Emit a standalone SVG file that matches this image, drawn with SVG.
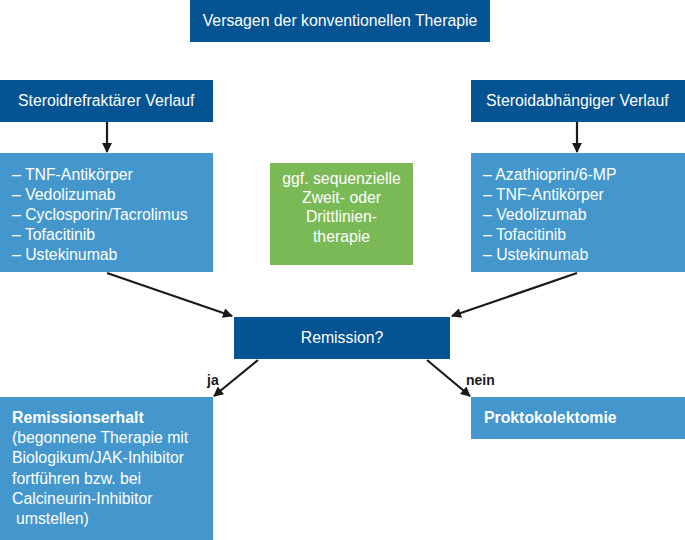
<svg xmlns="http://www.w3.org/2000/svg" width="685" height="540" viewBox="0 0 685 540">
<defs>
<style>
.dark{fill:#045393}
.light{fill:#4497cc}
.green{fill:#7ab955}
text{font-family:"Liberation Sans",Arial,sans-serif;font-size:15.8px;fill:#ffffff}
.c{text-anchor:middle}
.b{font-weight:bold}
.lbl{fill:#1a1a1a;font-weight:bold;font-size:14px}
.conn{stroke:#1a1a1a;stroke-width:2.2;fill:none;marker-end:url(#ah)}
</style>
<marker id="ah" viewBox="0 0 10 10" refX="9" refY="5" markerWidth="5" markerHeight="4.5" orient="auto" markerUnits="strokeWidth">
<path d="M0,0 L10,5 L0,10 z" fill="#1a1a1a"/>
</marker>
</defs>
<rect width="685" height="540" fill="#ffffff"/>
<g id="n-top">
<rect class="dark" x="190" y="0" width="300" height="42"/>
<text class="c" x="340" y="26">Versagen der konventionellen Therapie</text>
</g>
<g id="n-refr">
<rect class="dark" x="0" y="80" width="213" height="42"/>
<text x="18" y="106">Steroidrefraktärer Verlauf</text>
</g>
<g id="n-abh">
<rect class="dark" x="471" y="80" width="214" height="42"/>
<text x="486" y="106">Steroidabhängiger Verlauf</text>
</g>
<g id="n-list-left">
<rect class="light" x="0" y="153" width="213" height="119"/>
<text x="12" y="180">– TNF-Antikörper</text>
<text x="12" y="200">– Vedolizumab</text>
<text x="12" y="220">– Cyclosporin/Tacrolimus</text>
<text x="12" y="240">– Tofacitinib</text>
<text x="12" y="260">– Ustekinumab</text>
</g>
<g id="n-green">
<rect class="green" x="270" y="163" width="143" height="102"/>
<text class="c" x="341.5" y="184">ggf. sequenzielle</text>
<text class="c" x="341.5" y="203">Zweit- oder</text>
<text class="c" x="341.5" y="222">Drittlinien-</text>
<text class="c" x="341.5" y="242">therapie</text>
</g>
<g id="n-list-right">
<rect class="light" x="471" y="153" width="214" height="119"/>
<text x="483" y="180">– Azathioprin/6-MP</text>
<text x="483" y="200">– TNF-Antikörper</text>
<text x="483" y="220">– Vedolizumab</text>
<text x="483" y="240">– Tofacitinib</text>
<text x="483" y="260">– Ustekinumab</text>
</g>
<g id="n-remission">
<rect class="dark" x="234" y="317" width="216" height="42"/>
<text class="c" x="342" y="343">Remission?</text>
</g>
<g id="n-erhalt">
<rect class="light" x="0" y="397" width="213" height="143"/>
<text class="b" x="12" y="423">Remissionserhalt</text>
<text x="12" y="443">(begonnene Therapie mit</text>
<text x="12" y="463">Biologikum/JAK-Inhibitor</text>
<text x="12" y="484">fortführen bzw. bei</text>
<text x="12" y="504">Calcineurin-Inhibitor</text>
<text x="16" y="524">umstellen)</text>
</g>
<g id="n-prokto">
<rect class="light" x="471" y="397" width="214" height="42"/>
<text class="b" x="484" y="423">Proktokolektomie</text>
</g>
<g id="connectors">
<line class="conn" x1="107" y1="122" x2="107" y2="152"/>
<line class="conn" x1="577" y1="122" x2="577" y2="152"/>
<line class="conn" x1="107" y1="273" x2="232" y2="316"/>
<line class="conn" x1="577" y1="273" x2="452" y2="316"/>
<line class="conn" x1="258" y1="360" x2="214" y2="396"/>
<line class="conn" x1="427" y1="360" x2="470" y2="396"/>
<text class="lbl" x="207" y="385">ja</text>
<text class="lbl" x="466" y="385">nein</text>
</g>
</svg>
